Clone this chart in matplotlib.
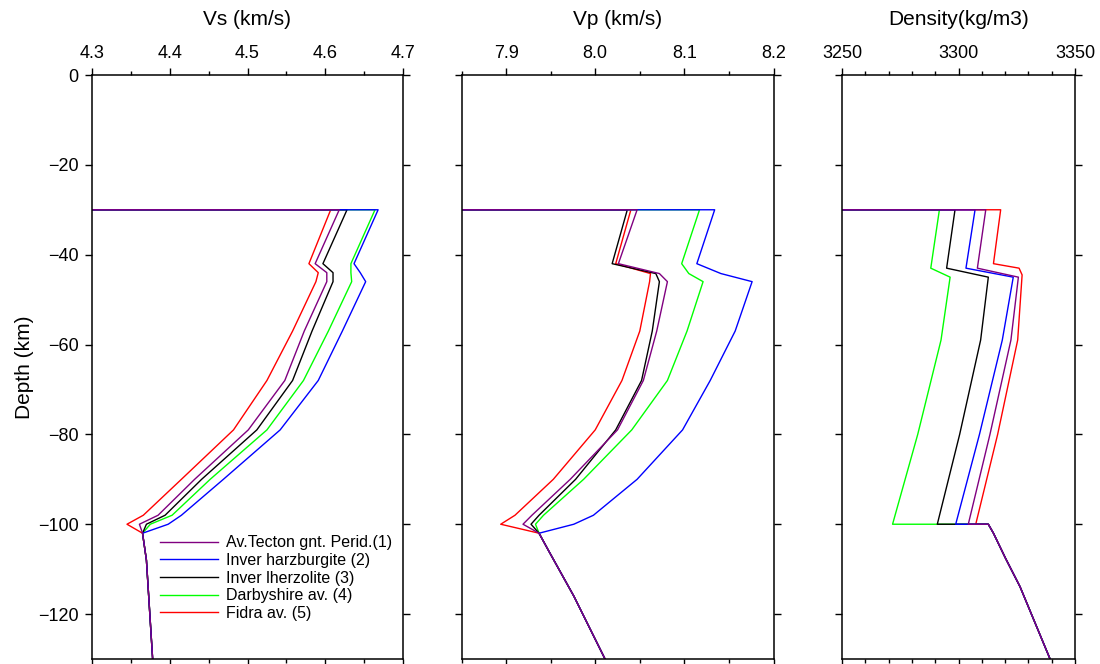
import numpy as np
import matplotlib
matplotlib.use("Agg")
import matplotlib.pyplot as plt
from matplotlib.ticker import MultipleLocator

plt.rcParams['font.family'] = ['Liberation Sans', 'DejaVu Sans']

#----------------------------DATA-------------------------------#
names = ['Av.Tecton gnt. Perid.(1)', 'Inver harzburgite (2)', 'Inver lherzolite (3)',
         'Darbyshire av. (4)', 'Fidra av. (5)']
colors = ['#800080', '#0000ff', '#000000', '#00ff00', '#ff0000']

# crust (plotted off the left edge) down to the Moho at -30 km
crust_depth = [0, -30]
crust_vs = 3.8
crust_vp = 6.6
crust_rho = 2900

# Vs (km/s), mantle part
vs_depth = [-30, -42, -44, -46, -57, -68, -79, -90, -98, -100]
vs_1 = [4.618, 4.587, 4.602, 4.602, 4.573, 4.548, 4.501, 4.432, 4.385, 4.361]
vs_2 = [4.668, 4.637, 4.645, 4.652, 4.622, 4.591, 4.542, 4.469, 4.415, 4.398]
vs_3 = [4.628, 4.597, 4.610, 4.610, 4.583, 4.558, 4.512, 4.441, 4.394, 4.370]
vs_4 = [4.664, 4.633, 4.633, 4.634, 4.604, 4.572, 4.525, 4.452, 4.403, 4.375]
vs_5 = [4.607, 4.579, 4.591, 4.588, 4.558, 4.525, 4.482, 4.415, 4.366, 4.345]
vs_deep_depth = [-102, -108, -130]
vs_deep = [4.365, 4.370, 4.378]

# Vp (km/s)
vp_depth = [-30, -42, -44.2, -46, -57, -68, -79, -90, -98, -100]
vp_1 = [8.047, 8.026, 8.072, 8.081, 8.069, 8.054, 8.025, 7.972, 7.929, 7.919]
vp_2 = [8.134, 8.114, 8.141, 8.176, 8.157, 8.129, 8.098, 8.047, 7.998, 7.976]
vp_3 = [8.036, 8.019, 8.068, 8.072, 8.064, 8.052, 8.023, 7.978, 7.937, 7.928]
vp_4 = [8.117, 8.097, 8.105, 8.121, 8.103, 8.081, 8.041, 7.987, 7.942, 7.933]
vp_5 = [8.040, 8.023, 8.062, 8.061, 8.050, 8.030, 8.000, 7.953, 7.910, 7.894]
vp_deep_depth = [-102, -106, -116, -130]
vp_deep = [7.937, 7.948, 7.976, 8.011]

# Density (kg/m3)
rho_depth = [-30, -43, -45, -59, -80, -100]
rho_1 = [3311.7, 3308.1, 3325.7, 3322.5, 3313.5, 3304.2]
rho_2 = [3307.1, 3303.2, 3323.5, 3318.8, 3309.0, 3298.8]
rho_3 = [3298.5, 3294.9, 3312.8, 3309.5, 3300.5, 3290.9]
rho_4 = [3291.8, 3288.1, 3296.4, 3292.5, 3282.5, 3271.7]
rho_depth_5 = [-30, -42, -43, -44.5, -59, -80, -100]
rho_5 = [3318.1, 3315.0, 3326.0, 3327.3, 3325.4, 3316.8, 3307.4]
rho_deep_depth = [-100, -102, -107.6, -113.9, -130]
rho_deep = [3312.8, 3315.0, 3320.2, 3326.4, 3339.3]
#-----------------------------------------------------------------#


def profile(crust, depth, vals, deep_depth, deep):
    x = [crust, crust] + list(vals) + list(deep)
    y = crust_depth + list(depth) + list(deep_depth)
    return x, y


fig = plt.figure(figsize=(11, 6.64), dpi=100)
bot, hgt = 5 / 664, 584 / 664
ax1 = fig.add_axes([92 / 1100, bot, 311 / 1100, hgt])
ax2 = fig.add_axes([461.5 / 1100, bot, 312 / 1100, hgt])
ax3 = fig.add_axes([842 / 1100, bot, 233 / 1100, hgt])

vs_all = [vs_1, vs_2, vs_3, vs_4, vs_5]
vp_all = [vp_1, vp_2, vp_3, vp_4, vp_5]
rho_all = [rho_1, rho_2, rho_3, rho_4, rho_5]

# draw 5..1 so purple ends up on top, as in the original
handles = [None] * 5
for i in reversed(range(5)):
    x, y = profile(crust_vs, vs_depth, vs_all[i], vs_deep_depth, vs_deep)
    handles[i], = ax1.plot(x, y, color=colors[i], lw=1.0, label=names[i])
    x, y = profile(crust_vp, vp_depth, vp_all[i], vp_deep_depth, vp_deep)
    ax2.plot(x, y, color=colors[i], lw=1.0)
    d = rho_depth_5 if i == 4 else rho_depth
    x, y = profile(crust_rho, d, rho_all[i], rho_deep_depth, rho_deep)
    ax3.plot(x, y, color=colors[i], lw=1.0)

setup = [(ax1, 'Vs (km/s)', (4.3, 4.7), 0.1, 0.05),
         (ax2, 'Vp (km/s)', (7.85, 8.2), 0.1, 0.05),
         (ax3, 'Density(kg/m3)', (3250, 3350), 50, 10)]
for ax, lab, lim, major, minor in setup:
    ax.set_xlim(lim)
    ax.set_ylim(-130, 0)
    ax.xaxis.set_major_locator(MultipleLocator(major))
    ax.xaxis.set_minor_locator(MultipleLocator(minor))
    ax.yaxis.set_major_locator(MultipleLocator(20))
    ax.xaxis.set_label_position('top')
    ax.set_xlabel(lab, fontsize=15, labelpad=14)
    ax.tick_params(axis='both', which='both', direction='out', top=True, bottom=True,
                   left=True, right=True, labeltop=True, labelbottom=False,
                   labelleft=(ax is ax1), labelsize=13, width=1.0, pad=4.5)
    ax.tick_params(which='major', length=5)
    ax.tick_params(which='minor', length=3)
    for sp in ax.spines.values():
        sp.set_linewidth(1.1)

ax1.set_ylabel('Depth (km)', fontsize=15, labelpad=3)

ax1.legend(handles=handles, loc='upper left', bbox_to_anchor=(0.219, 0.212),
           frameon=False, fontsize=11.5, handlelength=3.6, handletextpad=0.5,
           labelspacing=0.17, borderpad=0, borderaxespad=0)

plt.savefig('out.png', dpi=100)
